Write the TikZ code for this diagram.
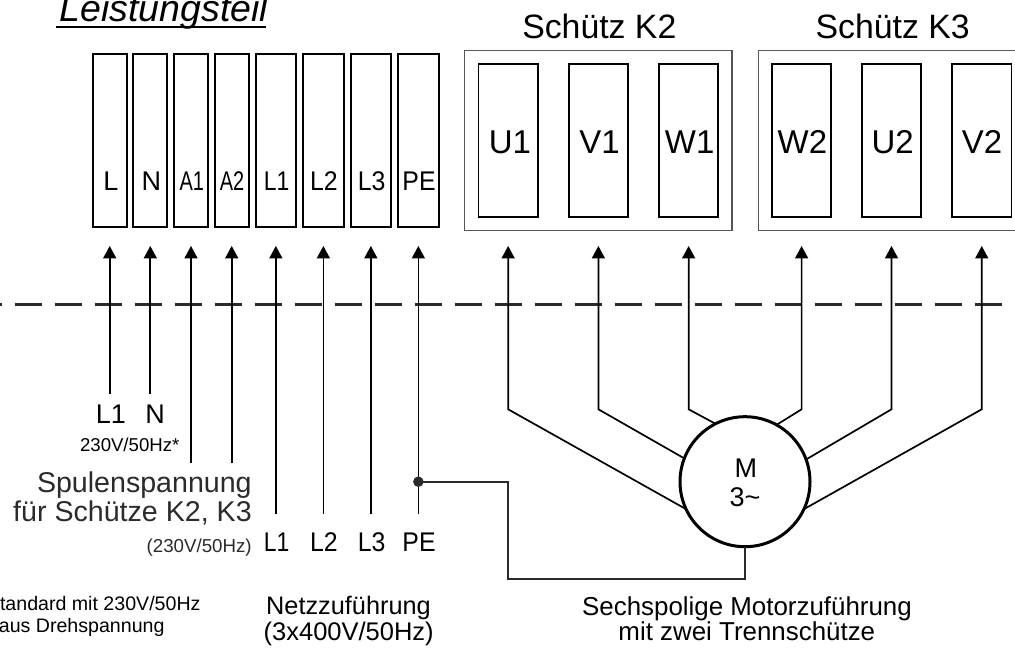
\documentclass[tikz,border=0pt]{standalone}
\usepackage{fontspec}
\setmainfont{Liberation Sans}
\usetikzlibrary{arrows.meta}
\definecolor{softblack}{HTML}{2B2B2B}
\definecolor{boxgray}{HTML}{555555}
\tikzset{
  txt/.style={inner sep=0pt,outer sep=0pt,anchor=base,text=black,font=\fontsize{#1}{#1}\selectfont},
  termbox/.style={draw=black,line width=1.9pt,inner sep=0pt,outer sep=0pt,minimum height=172.7pt},
  inbox/.style={draw=black,line width=1.9pt,inner sep=0pt,outer sep=0pt,minimum width=59.4pt,minimum height=152.7pt},
  groupbox/.style={draw=boxgray,line width=1.3pt,inner sep=0pt,outer sep=0pt,minimum height=179.6pt},
  wire/.style={draw=black,line width=1.7pt,line join=miter},
  pewire/.style={draw=softblack,line width=1.7pt,line join=miter},
  termarrow/.style={wire,-{Triangle[length=12.5pt,width=13pt]},shorten >=19pt},
  contarrow/.style={wire,-{Triangle[length=12.5pt,width=13pt]},shorten >=29pt},
  sepline/.style={draw=softblack,line width=2.6pt,dash pattern=on 27.4pt off 12.6pt},
  motorc/.style={circle,draw=black,fill=white,line width=3pt,minimum size=130pt,inner sep=0pt,outer sep=0pt},
  dotc/.style={circle,fill=softblack,inner sep=0pt,minimum size=10.5pt}
}
\begin{document}
\begin{tikzpicture}[x=1pt,y=-1pt]
\useasboundingbox (0,0) rectangle (1015,648);
\clip (0,0) rectangle (1015,648);
\fill[white] (0,0) rectangle (1015,648);

% title
\node[txt=37.5,font=\fontsize{37.5}{37.5}\selectfont\itshape] (title) at (164,21) {Leistungsteil};
\draw[black,line width=2.4pt] (56,26.7) -- (266,26.7);

% group boxes
\node[groupbox,minimum width=267.3pt] (K2) at (598.25,140.5) {};
\node[groupbox,minimum width=270pt] (K3) at (893.4,140.5) {};
\node[txt=33.8] (K2t) at (599.3,38.3) {Schütz K2};
\node[txt=33.8] (K3t) at (892.7,38.3) {Schütz K3};

% terminals
\node[termbox,minimum width=34pt] (tL)  at (109.7,140.6) {};
\node[termbox,minimum width=34pt] (tN)  at (150.3,140.6) {};
\node[termbox,minimum width=34pt] (tA1) at (191,140.6) {};
\node[termbox,minimum width=34pt] (tA2) at (231.7,140.6) {};
\node[termbox,minimum width=40.3pt] (tLa) at (275.85,140.6) {};
\node[termbox,minimum width=40.7pt] (tLb) at (323.35,140.6) {};
\node[termbox,minimum width=40.3pt] (tLc) at (370.85,140.6) {};
\node[termbox,minimum width=40.7pt] (tPE) at (418.35,140.6) {};
\node[txt=27] (lL)  at (110.8,190.7) {L};
\node[txt=27] (lN)  at (151.3,190.7) {N};
\node[txt=27] (lA1) at (191.8,190.7) {\scalebox{.74}[1]{A1}};
\node[txt=27] (lA2) at (232,190.7) {\scalebox{.74}[1]{A2}};
\node[txt=27] (lLa) at (276.7,190.7) {\scalebox{.85}[1]{L1}};
\node[txt=27] (lLb) at (324,190.7) {\scalebox{.92}[1]{L2}};
\node[txt=27] (lLc) at (371.7,190.7) {\scalebox{.92}[1]{L3}};
\node[txt=27] (lPE) at (419,190.7) {\scalebox{.92}[1]{PE}};

% contactor contacts
\node[inbox] (U1) at (508.15,140.6) {};
\node[inbox] (V1) at (598.4,140.6) {};
\node[inbox] (W1) at (688.65,140.6) {};
\node[inbox] (W2) at (801.6,140.6) {};
\node[inbox] (U2) at (891.5,140.6) {};
\node[inbox] (V2) at (981.75,140.6) {};
\node[txt=33] (lU1) at (510,153.3) {U1};
\node[txt=33] (lV1) at (599.5,153.3) {V1};
\node[txt=33] (lW1) at (689.7,153.3) {W1};
\node[txt=33] (lW2) at (802.4,153.3) {W2};
\node[txt=33] (lU2) at (892.6,153.3) {U2};
\node[txt=33] (lV2) at (982,153.3) {V2};

% separation line
\coordinate (sepA) at (-25,304.7);
\coordinate (sepB) at (1030,304.7);
\draw[sepline] (sepA) -- (sepB);

% feed arrows
\coordinate (fL)  at (109.7,394.3);
\coordinate (fN)  at (150.3,394.3);
\coordinate (fA1) at (191,463.3);
\coordinate (fA2) at (231.7,463.3);
\coordinate (fLa) at (275.85,514);
\coordinate (fLb) at (323.35,514);
\coordinate (fLc) at (370.85,514);
\coordinate (fPE) at (418.35,514);
\foreach \a/\b in {fL/tL,fN/tN,fA1/tA1,fA2/tA2,fLa/tLa,fLb/tLb,fLc/tLc,fPE/tPE}
  \draw[termarrow] (\a) -- (\b);

% motor
\node[motorc] (motor) at (745,481.7) {};
\node[txt=27] (mM) at (745.8,477.7) {M};
\node[txt=27] (m3) at (745,506.7) {3\char`~};

% motor wires
\coordinate (eU1) at (508.15,409.3);
\coordinate (eV1) at (598.4,409.3);
\coordinate (eW1) at (688.65,409.3);
\coordinate (eW2) at (801.6,409.3);
\coordinate (eU2) at (891.5,409.3);
\coordinate (eV2) at (981.75,409.3);
\draw[contarrow] (motor.205.8) -- (eU1) -- (U1);
\draw[contarrow] (motor.159.1) -- (eV1) -- (V1);
\draw[contarrow] (motor.117.3) -- (eW1) -- (W1);
\draw[contarrow] (motor.61.4) -- (eW2) -- (W2);
\draw[contarrow] (motor.20.7) -- (eU2) -- (U2);
\draw[contarrow] (motor.-25.3) -- (eV2) -- (V2);

% earth
\node[dotc] (pedot) at (418.35,481.7) {};
\coordinate (pe1) at (508.15,481.7);
\coordinate (pe2) at (508.15,579.3);
\coordinate (pe3) at (745,579.3);
\draw[pewire] (pedot.center) -- (pe1) -- (pe2) -- (pe3) -- (motor.south);

% texts
\node[txt=27] (bL) at (110.8,423.3) {L1};
\node[txt=27] (bN) at (155.2,423.3) {N};
\node[txt=18.6] (v1) at (129.7,451.7) {230V/50Hz*};
\node[txt=28.6,anchor=base east,text=softblack] (s1) at (251.7,492.7) {Spulenspannung};
\node[txt=28.6,anchor=base east,text=softblack] (s2) at (251.7,521.7) {für Schütze K2, K3};
\node[txt=18.7,anchor=base east,text=softblack] (s3) at (251.7,552.5) {(230V/50Hz)};
\node[txt=27] (nLa) at (276.7,551.7) {\scalebox{.85}[1]{L1}};
\node[txt=27] (nLb) at (324,551.7) {\scalebox{.92}[1]{L2}};
\node[txt=27] (nLc) at (371.7,551.7) {\scalebox{.92}[1]{L3}};
\node[txt=27] (nPE) at (419,551.7) {\scalebox{.92}[1]{PE}};
\node[txt=19.6,anchor=base east] (f1) at (200.5,610) {tandard mit 230V/50Hz};
\node[txt=19.6,anchor=base east] (f2) at (164.5,632.3) {aus Drehspannung};
\node[txt=25.3] (n1) at (348.5,614.3) {Netzzuführung};
\node[txt=25.5] (n2) at (348.7,640.7) {(3x400V/50Hz)};
\node[txt=25.9] (m1) at (747,615) {Sechspolige Motorzuführung};
\node[txt=25.9] (m2) at (746.8,640.7) {mit zwei Trennschütze};
\end{tikzpicture}
\end{document}
